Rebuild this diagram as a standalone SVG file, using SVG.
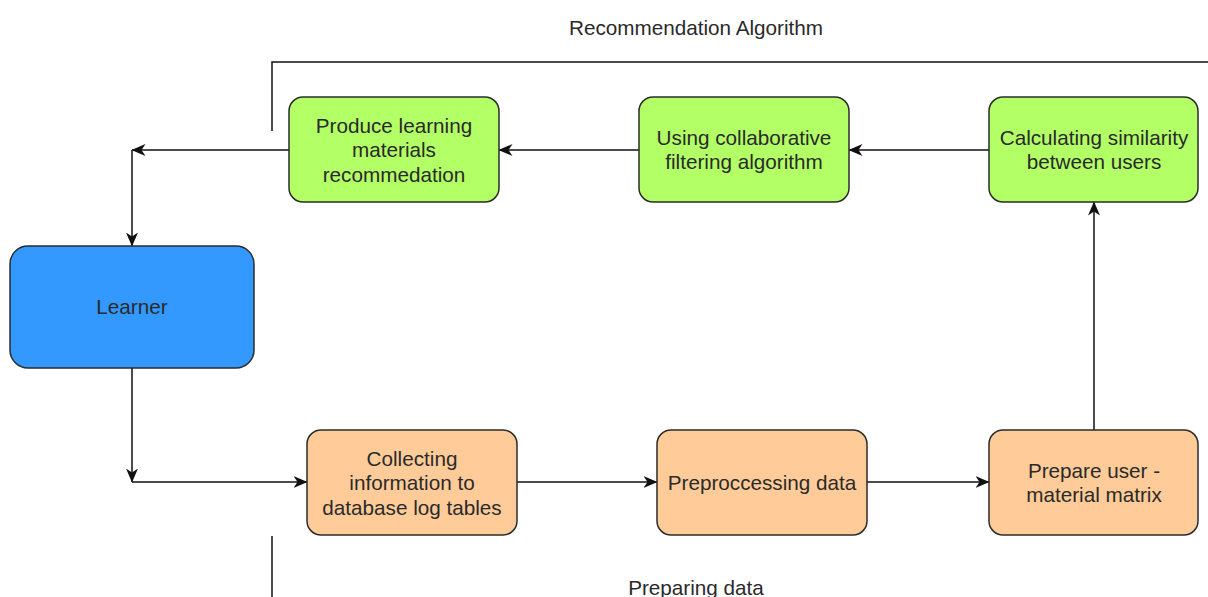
<svg xmlns="http://www.w3.org/2000/svg" width="1208" height="597" viewBox="0 0 1208 597">
<defs>
<style>
.n{stroke:#2b2b2b;stroke-width:1.5}
.g{fill:#B3FF66}
.o{fill:#FFCC99}
.b{fill:#3399FF}
text{font-family:"Liberation Sans",Arial,sans-serif;font-size:20.7px;fill:#2a2a2a;text-anchor:middle}
.c{fill:none;stroke:#111;stroke-width:1.5}
</style>
<marker id="a" viewBox="0 0 14 12" refX="13.5" refY="6" markerWidth="14" markerHeight="12" markerUnits="userSpaceOnUse" orient="auto">
<path d="M0,0 L14,6 L0,12 L4,6 Z" fill="#111"/>
</marker>
</defs>
<rect width="1208" height="597" fill="#fff"/>
<g id="connectors">
<path class="c" d="M989,150 H849" marker-end="url(#a)"/>
<path class="c" d="M639,150 H499" marker-end="url(#a)"/>
<path class="c" d="M289,150 H132" marker-end="url(#a)"/>
<path class="c" d="M132,150 V246" marker-end="url(#a)"/>
<path class="c" d="M132,368 V482" marker-end="url(#a)"/>
<path class="c" d="M132,482 H307" marker-end="url(#a)"/>
<path class="c" d="M517,482 H657" marker-end="url(#a)"/>
<path class="c" d="M867,482 H989" marker-end="url(#a)"/>
<path class="c" d="M1094,430 V202" marker-end="url(#a)"/>
<path class="c" d="M272,131 V62 H1208"/>
<path class="c" d="M272,536 V597"/>
</g>
<g id="label-top"><text x="696" y="35">Recommendation Algorithm</text></g>
<g id="label-bottom"><text x="696" y="595">Preparing data</text></g>
<g id="produce"><rect class="n g" x="289" y="97" width="210" height="105" rx="14"/>
<text x="394" y="133">Produce learning</text><text x="394" y="157">materials</text><text x="394" y="182">recommedation</text></g>
<g id="using"><rect class="n g" x="639" y="97" width="210" height="105" rx="14"/>
<text x="744" y="145">Using collaborative</text><text x="744" y="169">filtering algorithm</text></g>
<g id="calculating"><rect class="n g" x="989" y="97" width="209" height="105" rx="14"/>
<text x="1094" y="145">Calculating similarity</text><text x="1094" y="169">between users</text></g>
<g id="learner"><rect class="n b" x="10" y="246" width="244" height="122" rx="18"/>
<text x="132" y="314">Learner</text></g>
<g id="collecting"><rect class="n o" x="307" y="430" width="210" height="105" rx="14"/>
<text x="412" y="466">Collecting</text><text x="412" y="490">information to</text><text x="412" y="515">database log tables</text></g>
<g id="preprocessing"><rect class="n o" x="657" y="430" width="210" height="105" rx="14"/>
<text x="762" y="490">Preproccessing data</text></g>
<g id="prepare"><rect class="n o" x="989" y="430" width="209" height="105" rx="14"/>
<text x="1094" y="478">Prepare user -</text><text x="1094" y="502">material matrix</text></g>
</svg>
